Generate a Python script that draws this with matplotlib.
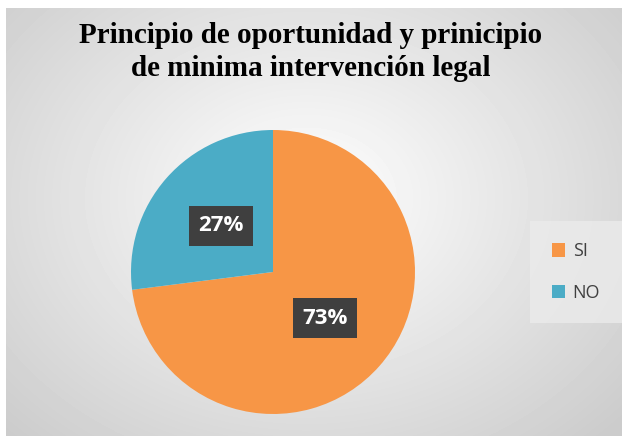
import numpy as np
import matplotlib.pyplot as plt

# Data
labels = ["SI", "NO"]
values = [73, 27]
colors = ["#F79646", "#4BACC6"]
title = "Principio de oportunidad y prinicipio\nde minima intervención legal"

fig = plt.figure(figsize=(6.22, 4.36), dpi=100)
fig.patch.set_facecolor("white")

# radial gradient background of the chart area
bg = fig.add_axes([6 / 622, 0, 616 / 622, 428 / 436])
yy, xx = np.mgrid[0:428, 0:616]
d = np.sqrt(((xx - 300) / 420.0) ** 2 + ((yy - 190) / 330.0) ** 2)
shade = 1.0 - 0.2 * np.clip(d, 0, 1)
bg.imshow(shade, cmap="gray", vmin=0, vmax=1, aspect="auto", interpolation="bilinear")
bg.axis("off")

# pie
ax = fig.add_axes([(273 - 142) / 622, (436 - 272 - 142) / 436, 284 / 622, 284 / 436])
wedges, texts, autotexts = ax.pie(
    values,
    colors=colors,
    startangle=90,
    counterclock=False,
    autopct="%1.0f%%",
    pctdistance=0.49,
    wedgeprops=dict(linewidth=0),
    textprops=dict(color="white", fontsize=16, fontweight="bold", family="Open Sans"),
)
for t in autotexts:
    t.set_bbox(dict(boxstyle="square,pad=0.42", facecolor="#3F3F3F", edgecolor="none"))
ax.set_xlim(-1, 1)
ax.set_ylim(-1, 1)
ax.set_aspect("equal")

# title
fig.text(0.5, 1 - 52 / 436, title, ha="center", va="center",
         fontsize=21, fontweight="bold", family="Liberation Serif", linespacing=1.3)

# legend
leg = fig.legend(wedges, labels, loc="center", bbox_to_anchor=(576 / 622, 1 - 272 / 436),
                 frameon=True, handlelength=0.75, handleheight=0.75, handletextpad=0.4,
                 labelspacing=1.3, borderpad=0.9, prop=dict(family="Open Sans", size=13))
leg.get_frame().set_facecolor("#EBEBEB")
leg.get_frame().set_edgecolor("none")
leg.get_frame().set_boxstyle("square")
for t in leg.get_texts():
    t.set_color("#404040")

fig.savefig("out.png", dpi=100)
